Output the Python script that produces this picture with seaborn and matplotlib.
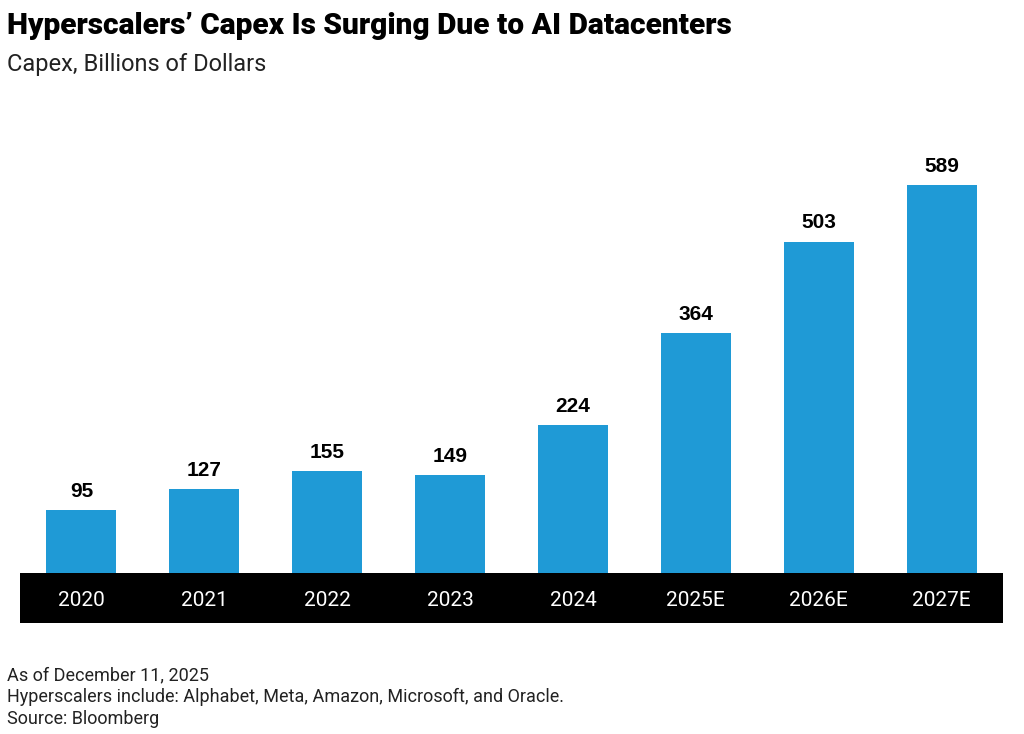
import matplotlib
matplotlib.use("Agg")
import matplotlib.pyplot as plt
import seaborn as sns
import pandas as pd

years = ["2020", "2021", "2022", "2023", "2024", "2025E", "2026E", "2027E"]
capex = [95, 127, 155, 149, 224, 364, 503, 589]

sns.set_theme(style="white")
plt.rcParams['font.family'] = ['Roboto', 'DejaVu Sans']

df = pd.DataFrame({"year": years, "capex": capex})

fig = plt.figure(figsize=(10.24, 7.34), dpi=100)
W, H = 1024, 734
# main bar axes: from y=150 px to baseline at 573 px
ax = fig.add_axes([20 / W, 1 - 573 / H, 983 / W, (573 - 150) / H])
sns.barplot(data=df, x="year", y="capex", color="#1f9ad6", width=0.57,
            saturation=1, linewidth=0, ax=ax)
ax.set_xlim(-0.5, 7.5)
ax.set_ylim(0, (573 - 150) / ((573 - 185) / 589))
ax.axis("off")
for i, v in enumerate(capex):
    ax.text(i, v + 14, str(v), ha="center", va="bottom", fontsize=15,
            fontweight="bold", family="Liberation Sans", color="black")

# black band with year labels
band = fig.add_axes([20 / W, 1 - 623 / H, 983 / W, 50 / H])
band.set_facecolor("black")
band.set_xlim(-0.5, 7.5)
band.set_ylim(0, 1)
band.set_xticks([])
band.set_yticks([])
for s in band.spines.values():
    s.set_visible(False)
for i, y in enumerate(years):
    band.text(i, 0.45, y, ha="center", va="center", color="white", fontsize=15)

fig.text(7 / W, 1 - 26 / H, "Hyperscalers’ Capex Is Surging Due to AI Datacenters",
         fontsize=21.5, fontweight="black", va="center", ha="left", color="black")
fig.text(7 / W, 1 - 65 / H, "Capex, Billions of Dollars", fontsize=17,
         va="center", ha="left", color="#222222")
notes = ["As of December 11, 2025",
         "Hyperscalers include: Alphabet, Meta, Amazon, Microsoft, and Oracle.",
         "Source: Bloomberg"]
for k, n in enumerate(notes):
    fig.text(7 / W, 1 - (675 + k * 22) / H, n, fontsize=13, va="center",
             ha="left", color="#222222")

fig.savefig("out.png", dpi=100)
